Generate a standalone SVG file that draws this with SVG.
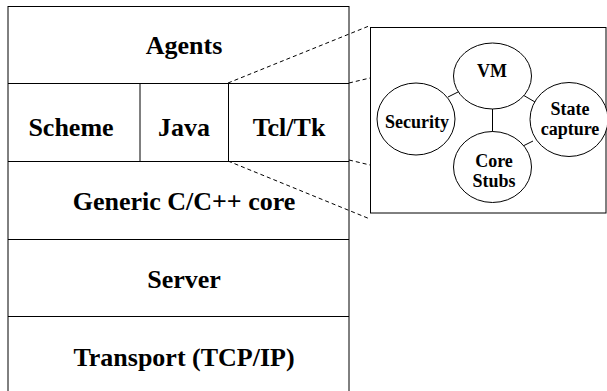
<svg xmlns="http://www.w3.org/2000/svg" width="607" height="391" viewBox="0 0 607 391">
<style>
text{font-family:'Liberation Serif','Times New Roman',Times,serif;font-weight:bold;fill:#000;text-anchor:middle}
.big{font-size:26px}
.sm{font-size:18px}
.ln{stroke:#000;stroke-width:1;fill:none}
.ds{stroke:#000;stroke-width:1;fill:none;stroke-dasharray:4 3}
.c{fill:#fff;stroke:#000;stroke-width:1}
</style>
<rect width="607" height="391" fill="#fff"/>
<g id="stack">
<line class="ln" x1="8" y1="6" x2="8" y2="391"/>
<line class="ln" x1="349" y1="6" x2="349" y2="391"/>
<line class="ln" x1="8" y1="6.5" x2="349" y2="6.5"/>
<line class="ln" x1="8" y1="83.5" x2="349" y2="83.5"/>
<line class="ln" x1="8" y1="161.5" x2="349" y2="161.5"/>
<line class="ln" x1="8" y1="239.5" x2="349" y2="239.5"/>
<line class="ln" x1="8" y1="316.5" x2="349" y2="316.5"/>
<line class="ln" x1="140" y1="84" x2="140" y2="161"/>
<line class="ln" x1="228.5" y1="84" x2="228.5" y2="161"/>
</g>
<g id="agents"><text class="big" x="184" y="54">Agents</text></g>
<g id="scheme"><text class="big" x="71" y="136">Scheme</text></g>
<g id="java"><text class="big" x="184" y="136">Java</text></g>
<g id="tcltk"><text class="big" x="289" y="136">Tcl/Tk</text></g>
<g id="core"><text class="big" x="184" y="210">Generic C/C++ core</text></g>
<g id="server"><text class="big" x="184" y="288">Server</text></g>
<g id="transport"><text class="big" x="184" y="366">Transport (TCP/IP)</text></g>
<g id="connectors">
<line class="ds" x1="228" y1="83" x2="369" y2="26"/>
<line class="ds" x1="349" y1="83" x2="370" y2="78"/>
<line class="ds" x1="349" y1="160" x2="370" y2="165"/>
<line class="ds" x1="228" y1="161" x2="370" y2="219"/>
<line class="ln" x1="448" y1="97" x2="460" y2="91"/>
<line class="ln" x1="523" y1="95" x2="535" y2="102"/>
<line class="ln" x1="492.5" y1="108" x2="492.5" y2="132"/>
<line class="ln" x1="523" y1="146" x2="533" y2="141"/>
</g>
<g id="detail">
<rect x="370.5" y="27.5" width="235.5" height="185.5" class="ln"/>
</g>
<g id="vm"><ellipse class="c" cx="492.5" cy="76" rx="39" ry="33"/><text class="sm" x="492" y="77">VM</text></g>
<g id="security"><ellipse class="c" cx="416" cy="119" rx="39" ry="36"/><text class="sm" x="417" y="128">Security</text></g>
<g id="state"><ellipse class="c" cx="569" cy="119.5" rx="39" ry="37"/><text class="sm" x="570" y="115">State</text><text class="sm" x="570" y="135">capture</text></g>
<g id="stubs"><ellipse class="c" cx="492.5" cy="167" rx="39" ry="35.5"/><text class="sm" x="494" y="167">Core</text><text class="sm" x="494" y="187">Stubs</text></g>
</svg>
